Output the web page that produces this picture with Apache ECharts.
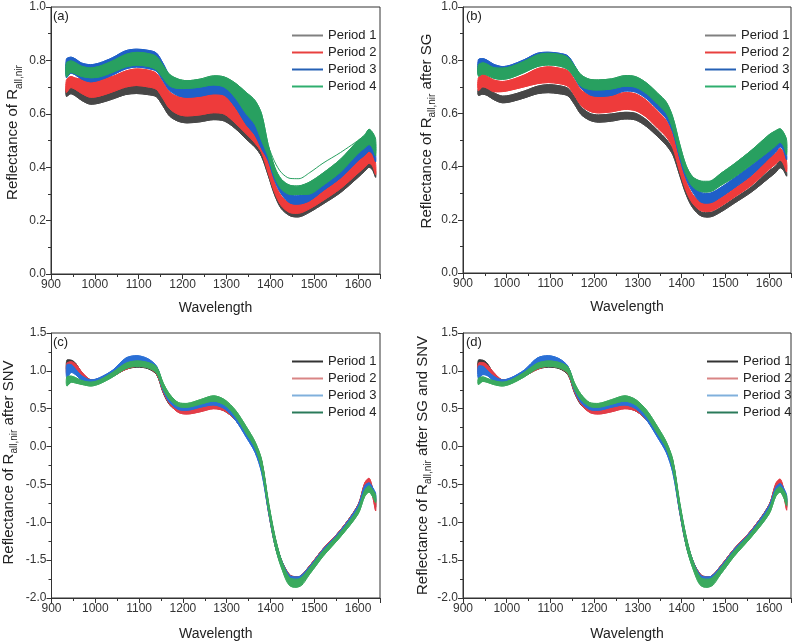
<!DOCTYPE html>
<html><head><meta charset="utf-8">
<script src="https://cdn.jsdelivr.net/npm/echarts@6/dist/echarts.min.js"></script>
<style>html,body{margin:0;padding:0;background:#fff}#c{width:799px;height:643px}</style>
</head><body><div id="c"></div>
<script>
// Wavelength sample positions (nm)
const W = [935,945,955,970,990,1010,1040,1070,1095,1120,1140,1155,1170,1190,1210,1240,1270,1295,1320,1345,1365,1380,1395,1410,1425,1445,1465,1490,1520,1560,1600,1615,1625,1633,1640];

// Panel (a): raw reflectance, lower / upper envelope of each period
const A_P1_LO = [0.665,0.675,0.668,0.650,0.636,0.640,0.655,0.672,0.676,0.672,0.664,0.630,0.592,0.572,0.566,0.570,0.578,0.573,0.545,0.505,0.475,0.440,0.370,0.295,0.245,0.218,0.214,0.232,0.262,0.305,0.362,0.385,0.400,0.390,0.362];
const A_P1_HI = [0.700,0.708,0.702,0.688,0.676,0.680,0.696,0.712,0.716,0.712,0.702,0.668,0.628,0.606,0.600,0.604,0.612,0.607,0.575,0.530,0.500,0.465,0.388,0.312,0.262,0.236,0.232,0.252,0.285,0.330,0.390,0.410,0.430,0.415,0.385];
const A_P2_LO = [0.680,0.698,0.692,0.676,0.662,0.666,0.682,0.700,0.706,0.701,0.692,0.658,0.620,0.598,0.592,0.596,0.604,0.599,0.565,0.525,0.490,0.455,0.380,0.305,0.256,0.230,0.228,0.245,0.275,0.320,0.378,0.400,0.415,0.405,0.372];
const A_P2_HI = [0.725,0.740,0.734,0.730,0.728,0.732,0.740,0.760,0.768,0.764,0.752,0.718,0.682,0.664,0.662,0.666,0.680,0.675,0.635,0.570,0.530,0.490,0.422,0.340,0.292,0.266,0.265,0.285,0.318,0.370,0.435,0.455,0.470,0.455,0.415];
const A_P3_LO = [0.735,0.752,0.746,0.730,0.720,0.726,0.745,0.768,0.775,0.770,0.760,0.725,0.688,0.668,0.662,0.666,0.675,0.670,0.625,0.560,0.520,0.470,0.425,0.350,0.300,0.266,0.262,0.275,0.312,0.360,0.425,0.445,0.460,0.450,0.420];
const A_P3_HI = [0.805,0.812,0.806,0.790,0.784,0.790,0.810,0.836,0.842,0.838,0.828,0.790,0.745,0.718,0.712,0.716,0.720,0.715,0.680,0.610,0.570,0.520,0.455,0.375,0.325,0.296,0.293,0.303,0.335,0.385,0.455,0.475,0.490,0.478,0.445];
const A_P4_LO = [0.738,0.755,0.750,0.740,0.735,0.738,0.755,0.775,0.782,0.778,0.765,0.735,0.705,0.695,0.695,0.700,0.708,0.700,0.660,0.600,0.560,0.500,0.440,0.362,0.318,0.298,0.298,0.300,0.332,0.382,0.452,0.472,0.485,0.472,0.442];
const A_P4_HI = [0.790,0.798,0.792,0.778,0.772,0.778,0.798,0.822,0.830,0.826,0.815,0.782,0.748,0.730,0.724,0.730,0.742,0.738,0.715,0.680,0.650,0.600,0.485,0.400,0.355,0.332,0.330,0.345,0.378,0.430,0.500,0.520,0.542,0.530,0.505];
const A_P4_OUT = [null,null,null,null,null,null,null,null,null,null,null,null,null,null,null,null,null,null,null,null,null,null,0.480,0.420,0.380,0.358,0.357,0.380,0.415,0.455,0.500,null,null,null,null];

// Panel (b): after SG
const B_P1_LO = [0.668,0.672,0.668,0.652,0.640,0.644,0.658,0.674,0.678,0.674,0.666,0.634,0.596,0.574,0.567,0.571,0.579,0.575,0.550,0.513,0.480,0.444,0.370,0.296,0.246,0.214,0.211,0.230,0.262,0.305,0.358,0.378,0.396,0.386,0.364];
const B_P1_HI = [0.692,0.697,0.693,0.678,0.665,0.669,0.684,0.702,0.708,0.704,0.694,0.662,0.624,0.600,0.594,0.598,0.604,0.600,0.575,0.536,0.502,0.464,0.386,0.312,0.262,0.229,0.227,0.247,0.280,0.324,0.384,0.402,0.422,0.410,0.380];
const B_P2_LO = [0.685,0.700,0.695,0.682,0.682,0.688,0.700,0.712,0.716,0.712,0.702,0.668,0.630,0.608,0.602,0.606,0.615,0.610,0.585,0.545,0.512,0.470,0.385,0.310,0.262,0.234,0.232,0.252,0.285,0.330,0.390,0.410,0.425,0.410,0.380];
const B_P2_HI = [0.732,0.746,0.740,0.726,0.720,0.726,0.744,0.768,0.775,0.770,0.760,0.726,0.688,0.668,0.664,0.668,0.678,0.673,0.648,0.608,0.572,0.520,0.425,0.345,0.295,0.266,0.264,0.284,0.318,0.366,0.432,0.450,0.468,0.452,0.418];
const B_P3_LO = [0.745,0.760,0.756,0.740,0.732,0.738,0.756,0.778,0.785,0.780,0.770,0.735,0.695,0.670,0.664,0.668,0.684,0.680,0.655,0.615,0.580,0.528,0.435,0.355,0.305,0.266,0.264,0.286,0.320,0.368,0.432,0.455,0.475,0.460,0.425];
const B_P3_HI = [0.802,0.806,0.800,0.785,0.776,0.782,0.802,0.826,0.830,0.826,0.816,0.780,0.738,0.712,0.706,0.710,0.720,0.715,0.690,0.650,0.612,0.556,0.460,0.378,0.330,0.302,0.300,0.322,0.356,0.405,0.460,0.480,0.495,0.480,0.445];
const B_P4_LO = [0.740,0.748,0.744,0.732,0.728,0.734,0.754,0.776,0.782,0.778,0.765,0.735,0.702,0.690,0.688,0.692,0.702,0.698,0.674,0.635,0.600,0.540,0.448,0.370,0.325,0.306,0.306,0.330,0.360,0.408,0.458,0.478,0.492,0.478,0.445];
const B_P4_HI = [0.782,0.790,0.785,0.772,0.770,0.776,0.796,0.820,0.826,0.822,0.810,0.778,0.745,0.728,0.726,0.730,0.742,0.738,0.714,0.676,0.642,0.585,0.488,0.405,0.362,0.345,0.345,0.375,0.410,0.462,0.520,0.535,0.542,0.528,0.500];

// Panel (c): after SNV
const C_P1_LO = [1.00,1.05,1.00,0.90,0.84,0.86,0.93,1.02,1.05,1.03,0.95,0.71,0.55,0.46,0.44,0.47,0.51,0.47,0.35,0.14,-0.03,-0.28,-0.83,-1.28,-1.56,-1.75,-1.77,-1.61,-1.39,-1.14,-0.82,-0.56,-0.50,-0.62,-0.80];
const C_P1_HI = [1.14,1.14,1.10,0.97,0.88,0.90,0.99,1.10,1.13,1.10,1.03,0.79,0.63,0.51,0.49,0.52,0.56,0.52,0.40,0.21,0.03,-0.20,-0.75,-1.20,-1.50,-1.70,-1.72,-1.57,-1.35,-1.10,-0.77,-0.50,-0.45,-0.55,-0.68];
const C_P2_LO = [0.95,1.02,0.98,0.90,0.84,0.86,0.93,1.02,1.06,1.04,0.96,0.72,0.56,0.45,0.43,0.46,0.50,0.47,0.35,0.14,-0.04,-0.30,-0.85,-1.30,-1.57,-1.76,-1.78,-1.62,-1.40,-1.15,-0.83,-0.55,-0.48,-0.65,-0.85];
const C_P2_HI = [1.10,1.12,1.09,0.98,0.88,0.90,0.99,1.10,1.15,1.12,1.04,0.80,0.64,0.51,0.49,0.52,0.56,0.53,0.41,0.22,0.04,-0.20,-0.75,-1.20,-1.50,-1.70,-1.72,-1.57,-1.35,-1.10,-0.77,-0.48,-0.42,-0.55,-0.70];
const C_P3_LO = [0.90,0.98,0.95,0.87,0.83,0.86,0.95,1.08,1.12,1.08,0.98,0.74,0.58,0.49,0.48,0.52,0.55,0.50,0.35,0.12,-0.08,-0.35,-0.85,-1.30,-1.58,-1.78,-1.80,-1.64,-1.42,-1.17,-0.85,-0.62,-0.55,-0.62,-0.72];
const C_P3_HI = [1.08,1.08,1.02,0.93,0.88,0.91,1.01,1.17,1.20,1.16,1.06,0.82,0.66,0.55,0.54,0.58,0.62,0.58,0.44,0.22,0.02,-0.22,-0.75,-1.20,-1.50,-1.71,-1.72,-1.58,-1.36,-1.11,-0.78,-0.52,-0.48,-0.54,-0.62];
const C_P4_LO = [0.80,0.85,0.84,0.82,0.80,0.83,0.92,1.03,1.06,1.04,0.97,0.76,0.62,0.53,0.52,0.56,0.60,0.55,0.40,0.17,-0.02,-0.30,-0.82,-1.30,-1.60,-1.84,-1.85,-1.68,-1.45,-1.19,-0.89,-0.66,-0.60,-0.66,-0.74];
const C_P4_HI = [0.92,0.93,0.91,0.87,0.85,0.88,0.98,1.10,1.13,1.11,1.05,0.84,0.69,0.58,0.57,0.62,0.67,0.62,0.48,0.26,0.06,-0.18,-0.72,-1.18,-1.50,-1.74,-1.75,-1.60,-1.38,-1.13,-0.82,-0.58,-0.52,-0.57,-0.64];

// Panel (d): after SG and SNV
const D_P1_LO = [1.01,1.06,1.01,0.90,0.84,0.86,0.93,1.02,1.05,1.03,0.95,0.71,0.55,0.46,0.44,0.47,0.51,0.47,0.35,0.14,-0.03,-0.28,-0.83,-1.28,-1.56,-1.75,-1.77,-1.61,-1.39,-1.14,-0.82,-0.57,-0.51,-0.62,-0.80];
const D_P1_HI = [1.14,1.14,1.10,0.97,0.88,0.90,0.99,1.10,1.13,1.10,1.03,0.79,0.63,0.51,0.49,0.52,0.56,0.52,0.40,0.21,0.03,-0.20,-0.75,-1.20,-1.50,-1.70,-1.72,-1.57,-1.35,-1.10,-0.77,-0.51,-0.46,-0.56,-0.68];
const D_P2_LO = [0.96,1.02,0.98,0.90,0.84,0.86,0.93,1.02,1.06,1.04,0.96,0.72,0.56,0.45,0.43,0.46,0.50,0.47,0.35,0.14,-0.04,-0.30,-0.85,-1.30,-1.57,-1.76,-1.78,-1.62,-1.40,-1.15,-0.83,-0.56,-0.50,-0.64,-0.84];
const D_P2_HI = [1.10,1.11,1.08,0.98,0.88,0.90,0.99,1.10,1.15,1.12,1.04,0.80,0.64,0.51,0.49,0.52,0.56,0.53,0.41,0.22,0.04,-0.20,-0.75,-1.20,-1.50,-1.70,-1.72,-1.57,-1.35,-1.10,-0.77,-0.49,-0.43,-0.55,-0.70];
const D_P3_LO = [0.90,0.95,0.94,0.87,0.83,0.86,0.95,1.08,1.12,1.08,0.98,0.74,0.58,0.49,0.48,0.52,0.55,0.50,0.35,0.12,-0.08,-0.35,-0.85,-1.30,-1.58,-1.78,-1.80,-1.64,-1.42,-1.17,-0.85,-0.62,-0.56,-0.62,-0.74];
const D_P3_HI = [1.06,1.06,1.01,0.93,0.88,0.91,1.01,1.17,1.20,1.16,1.06,0.82,0.66,0.55,0.54,0.58,0.62,0.58,0.44,0.22,0.02,-0.22,-0.75,-1.20,-1.50,-1.71,-1.72,-1.58,-1.36,-1.11,-0.78,-0.54,-0.49,-0.55,-0.64];
const D_P4_LO = [0.82,0.86,0.85,0.82,0.80,0.83,0.92,1.03,1.06,1.04,0.97,0.76,0.62,0.53,0.52,0.56,0.60,0.55,0.40,0.17,-0.02,-0.30,-0.82,-1.30,-1.60,-1.84,-1.85,-1.68,-1.45,-1.19,-0.89,-0.66,-0.60,-0.67,-0.78];
const D_P4_HI = [0.90,0.92,0.90,0.87,0.85,0.88,0.98,1.10,1.13,1.11,1.05,0.84,0.69,0.58,0.57,0.62,0.67,0.62,0.48,0.26,0.06,-0.18,-0.72,-1.18,-1.50,-1.74,-1.75,-1.60,-1.38,-1.13,-0.82,-0.58,-0.53,-0.58,-0.66];

// Tick definitions
const X_MIN = 900, X_MAX = 1650, X_STEP = 100;
const Y_TOP = {min: 0, max: 1.0, step: 0.2};
const Y_BOT = {min: -2.0, max: 1.5, step: 0.5};
const PERIODS = ['Period 1', 'Period 2', 'Period 3', 'Period 4'];
const PANEL_TAGS = ['(a)', '(b)', '(c)', '(d)'];

const FONT = 'Liberation Sans, Arial, Helvetica, sans-serif';
const BAND_AB = ['#474747', '#ee3b3b', '#1f5fc8', '#28a060'];
const BAND_CD = ['#3a3a3a', '#e33d48', '#2a6fd6', '#3aaa5e'];
const LEG_AB = ['#808080', '#e8403f', '#2560b5', '#2fae6e'];
const LEG_CD = ['#333333', '#d98585', '#80b0dc', '#2a7a5a'];

const panels = [
  {grid: {left: 51, top: 7, width: 329, height: 267}, y: Y_TOP, bands: [[A_P1_LO, A_P1_HI], [A_P2_LO, A_P2_HI], [A_P3_LO, A_P3_HI], [A_P4_LO, A_P4_HI]], col: BAND_AB, leg: LEG_AB, ytitle: ['Reflectance of R', 'all,nir', ''], yGap: 27, shift: 16, legPos: {left: 287, top: 22}, tag: {left: 48, top: 5}},
  {grid: {left: 463, top: 7, width: 328, height: 266}, y: Y_TOP, bands: [[B_P1_LO, B_P1_HI], [B_P2_LO, B_P2_HI], [B_P3_LO, B_P3_HI], [B_P4_LO, B_P4_HI]], col: BAND_AB, leg: LEG_AB, ytitle: ['Reflectance of R', 'all,nir', ' after SG'], yGap: 24, shift: 18, legPos: {left: 700, top: 22}, tag: {left: 461, top: 5}},
  {grid: {left: 51, top: 333, width: 329, height: 265}, y: Y_BOT, bands: [[C_P1_LO, C_P1_HI], [C_P2_LO, C_P2_HI], [C_P3_LO, C_P3_HI], [C_P4_LO, C_P4_HI]], col: BAND_CD, leg: LEG_CD, ytitle: ['Reflectance of R', 'all,nir', ' after SNV'], yGap: 32, shift: 6, legPos: {left: 287, top: 348}, tag: {left: 48, top: 331}},
  {grid: {left: 463, top: 333, width: 328, height: 265}, y: Y_BOT, bands: [[D_P1_LO, D_P1_HI], [D_P2_LO, D_P2_HI], [D_P3_LO, D_P3_HI], [D_P4_LO, D_P4_HI]], col: BAND_CD, leg: LEG_CD, ytitle: ['Reflectance of R', 'all,nir', ' after SG and SNV'], yGap: 26, shift: 0, legPos: {left: 702, top: 348}, tag: {left: 461, top: 331}}
];

const SMOOTH = 0.3;
const grids = [], xAxes = [], yAxes = [], series = [], legends = [], titles = [];
const axisCol = '#333';
panels.forEach((p, g) => {
  grids.push(Object.assign({show: true, borderColor: axisCol, borderWidth: 1, backgroundColor: 'transparent'}, p.grid));
  xAxes.push({
    gridIndex: g, type: 'value', min: X_MIN, max: X_MAX, interval: X_STEP,
    name: 'Wavelength', nameLocation: 'middle', nameGap: g < 2 ? 27 : 29,
    nameTextStyle: {fontSize: 14, color: '#222', fontFamily: FONT},
    axisLine: {show: true, onZero: false, lineStyle: {color: axisCol, width: 1}},
    axisTick: {show: true, length: 5, lineStyle: {color: axisCol}},
    minorTick: {show: true, splitNumber: 2, length: 3, lineStyle: {color: axisCol}},
    splitLine: {show: false},
    axisLabel: {fontSize: 12, color: '#333', margin: 5, fontFamily: FONT,
      formatter: v => (Math.round(v) % 100 === 0 ? String(v) : '')}
  });
  const yt = p.ytitle;
  yAxes.push({
    gridIndex: g, type: 'value', min: p.y.min, max: p.y.max, interval: p.y.step,
    name: (p.shift ? '{sp|}' : '') + '{a|' + yt[0] + '}{b|' + yt[1] + '}' + (yt[2] ? '{a|' + yt[2] + '}' : ''),
    nameLocation: 'middle', nameRotate: 90, nameGap: p.yGap,
    nameTextStyle: {rich: {
      sp: {width: p.shift, fontSize: 15, lineHeight: 22},
      a: {fontSize: 15, color: '#222', fontFamily: FONT, lineHeight: 22},
      b: {fontSize: 10, color: '#222', fontFamily: FONT, lineHeight: 10, verticalAlign: 'bottom'}
    }},
    axisLine: {show: true, onZero: false, lineStyle: {color: axisCol, width: 1}},
    axisTick: {show: true, length: 5, lineStyle: {color: axisCol}},
    minorTick: {show: true, splitNumber: 2, length: 3, lineStyle: {color: axisCol}},
    splitLine: {show: false},
    axisLabel: {fontSize: 12, color: '#333', margin: 5, fontFamily: FONT, formatter: v => v.toFixed(1)}
  });
  p.bands.forEach((b, k) => {
    const lo = b[0], hi = b[1], c = p.col[k];
    // filled envelope between lower and upper spectra
    series.push({
      type: 'custom', name: PERIODS[k], coordinateSystem: 'cartesian2d',
      xAxisIndex: g, yAxisIndex: g, silent: true, animation: false, z: 2 + k * 2,
      itemStyle: {color: c},
      data: [[W[0], lo[0]]],
      renderItem: function (params, api) {
        const top = W.map((w, i) => api.coord([w, hi[i]]));
        const bot = W.map((w, i) => api.coord([w, lo[i]])).reverse();
        return {type: 'polygon', shape: {points: top.concat(bot), smooth: SMOOTH},
          style: {fill: c, stroke: c, lineWidth: 1}};
      }
    });
    ['lo', 'hi'].forEach((tag, j) => {
      const arr = j === 0 ? lo : hi;
      series.push({
        type: 'line', name: tag + g + k, xAxisIndex: g, yAxisIndex: g,
        data: W.map((w, i) => [w, arr[i]]),
        smooth: SMOOTH, symbol: 'none', silent: true, animation: false, z: 3 + k * 2,
        lineStyle: {color: c, width: 1}
      });
    });
  });
  legends.push({
    orient: 'vertical', left: p.legPos.left, top: p.legPos.top,
    icon: 'rect', itemWidth: 31, itemHeight: 2, itemGap: 0,
    textStyle: {fontSize: 13, color: '#222', fontFamily: FONT, lineHeight: 17},
    data: PERIODS.map((n, k) => ({name: n, itemStyle: {color: p.leg[k]}}))
  });
  titles.push({text: PANEL_TAGS[g], left: p.tag.left, top: p.tag.top,
    textStyle: {fontSize: 13, fontWeight: 'normal', color: '#222', fontFamily: FONT}});
});
// outlier spectrum in period 4 of panel (a)
series.push({
  type: 'line', name: 'outlier', xAxisIndex: 0, yAxisIndex: 0,
  data: W.map((w, i) => [w, A_P4_OUT[i] === null ? '-' : A_P4_OUT[i]]),
  smooth: SMOOTH, symbol: 'none', silent: true, animation: false, z: 12,
  lineStyle: {color: BAND_AB[3], width: 1}
});

const chart = echarts.init(document.getElementById('c'), null, {renderer: 'canvas'});
chart.setOption({
  animation: false,
  backgroundColor: '#ffffff',
  textStyle: {fontFamily: FONT},
  title: titles, grid: grids, xAxis: xAxes, yAxis: yAxes, legend: legends, series: series
});
</script>
</body></html>
